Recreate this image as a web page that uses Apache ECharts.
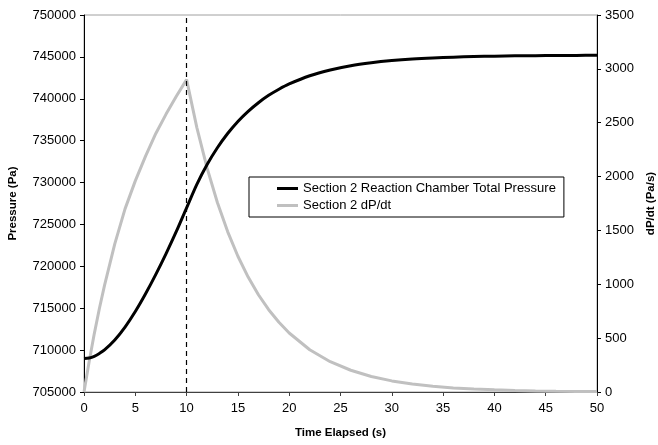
<!DOCTYPE html>
<html>
<head>
<meta charset="utf-8">
<script src="https://cdn.jsdelivr.net/npm/echarts@6/dist/echarts.min.js"></script>
<style>
  html, body { margin: 0; padding: 0; background: #fff; }
  #chart { width: 658px; height: 445px; }
</style>
</head>
<body>
<div id="chart"></div>
<script>
// time samples (s)
const timeElapsed = [0, 0.5, 1, 1.5, 2, 3, 4, 5, 6, 7, 8, 9, 10,
  11, 12, 13, 14, 15, 16, 17, 18, 19, 20, 22, 24, 26, 28, 30,
  32, 34, 36, 38, 40, 42, 44, 46, 48, 50]
// Section 2 reaction chamber total pressure (Pa)
const pressure = [709000, 709060, 709260, 709600, 710020, 711200, 712740, 714600, 716720, 719040, 721520, 724160, 726980,
  729780, 732150, 734150, 735850, 737290, 738500, 739530, 740410, 741140, 741770, 742750, 743440, 743950, 744300, 744560,
  744750, 744880, 744970, 745040, 745090, 745125, 745150, 745170, 745180, 745190]
// Section 2 dP/dt (Pa/s)
const dPdt = [0, 280, 540, 775, 990, 1375, 1700, 1960, 2190, 2400, 2580, 2745, 2900,
  2455, 2078, 1759, 1489, 1260, 1067, 903, 764, 647, 548, 392, 281, 202, 144, 103,
  74, 53, 38, 27, 20, 14, 10, 7, 5, 4]
const markerTime = 10

const seriesNames = ['Section 2 Reaction Chamber Total Pressure', 'Section 2 dP/dt']
const colors = ['#000000', '#c0c0c0']
const font = 'Liberation Sans, Arial, sans-serif'

const chart = echarts.init(document.getElementById('chart'))
const plain = v => String(v)
const option = {
  animation: false,
  color: colors,
  textStyle: { fontFamily: font },
  grid: {
    left: 84, right: 61, top: 15, bottom: 53,
    outerBoundsMode: 'none',
    show: true, borderColor: '#a0a0a0', borderWidth: 1
  },
  legend: {
    orient: 'vertical',
    left: 249,
    top: 177,
    padding: [5, 8, 5, 28],
    borderColor: '#000',
    borderWidth: 1,
    itemWidth: 21,
    itemHeight: 3,
    itemGap: 4,
    icon: 'rect',
    textStyle: { fontSize: 13, color: '#000', fontFamily: font },
    data: seriesNames
  },
  xAxis: {
    type: 'value',
    min: 0, max: 50, interval: 5,
    name: 'Time Elapsed (s)',
    nameLocation: 'middle',
    nameGap: 35,
    nameTextStyle: { fontWeight: 'bold', fontSize: 11.5, color: '#000' },
    axisLine: { lineStyle: { color: '#404040', width: 1 } },
    axisTick: { length: 4, lineStyle: { color: '#404040' } },
    axisLabel: { fontSize: 13, color: '#000', margin: 10, formatter: plain },
    splitLine: { show: false }
  },
  yAxis: [
    {
      type: 'value',
      min: 705000, max: 750000, interval: 5000,
      name: 'Pressure (Pa)',
      nameLocation: 'middle',
      nameRotate: 90,
      nameGap: 65,
      nameTextStyle: { fontWeight: 'bold', fontSize: 11.5, color: '#000' },
      axisLine: { show: true, lineStyle: { color: '#000', width: 1 } },
      axisTick: { show: true, length: 4, lineStyle: { color: '#000' } },
      axisLabel: { fontSize: 13, color: '#000', margin: 8, formatter: plain },
      splitLine: { show: false }
    },
    {
      type: 'value',
      min: 0, max: 3500, interval: 500,
      position: 'right',
      name: 'dP/dt (Pa/s)',
      nameLocation: 'middle',
      nameRotate: 90,
      nameGap: 45,
      nameTextStyle: { fontWeight: 'bold', fontSize: 11.5, color: '#000' },
      axisLine: { show: true, lineStyle: { color: '#000', width: 1 } },
      axisTick: { show: true, length: 4, lineStyle: { color: '#000' } },
      axisLabel: { fontSize: 13, color: '#000', margin: 8, formatter: plain },
      splitLine: { show: false }
    }
  ],
  series: [
    {
      name: seriesNames[0],
      type: 'line',
      yAxisIndex: 0,
      showSymbol: false,
      smooth: 0.3,
      lineStyle: { width: 3, color: colors[0] },
      data: timeElapsed.map((t, i) => [t, pressure[i]]),
      markLine: {
        silent: true,
        symbol: 'none',
        label: { show: false },
        lineStyle: { type: [5, 4], color: '#000', width: 1.2 },
        data: [{ xAxis: markerTime }]
      },
      z: 3
    },
    {
      name: seriesNames[1],
      type: 'line',
      yAxisIndex: 1,
      showSymbol: false,
      lineStyle: { width: 3, color: colors[1] },
      data: timeElapsed.map((t, i) => [t, dPdt[i]]),
      z: 2
    }
  ]
}
chart.setOption(option)
</script>
</body>
</html>
